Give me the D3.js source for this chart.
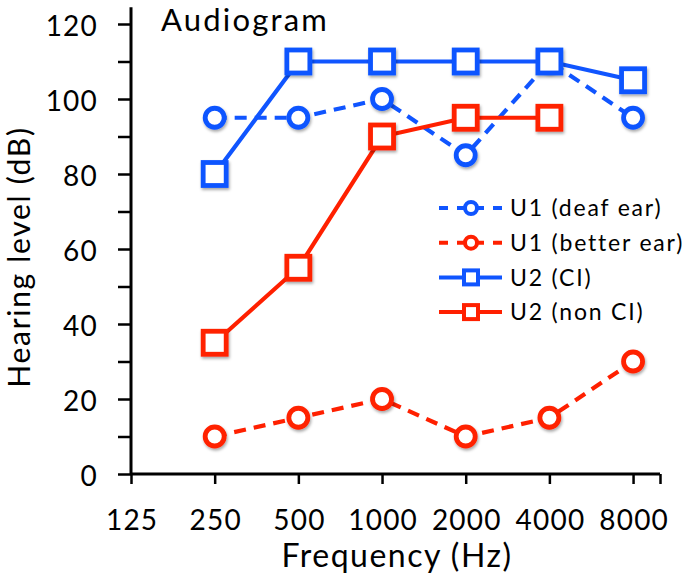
<!DOCTYPE html>
<html>
<head>
<meta charset="utf-8">
<script src="https://cdn.jsdelivr.net/npm/d3@7"></script>
<style>
  body { margin: 0; background: #fff; }
  text { font-family: Lato, "Open Sans", sans-serif; fill: #000; }
</style>
</head>
<body>
<svg id="chart" width="685" height="579"></svg>
<script>
// frequencies (Hz) and hearing levels (dB)
var freqs = [250, 500, 1000, 2000, 4000, 8000];
var u1Deaf = [95, 95, 100, 85, 110, 95];
var u1Better = [10, 15, 20, 10, 15, 30];
var u2CI = [80, 110, 110, 110, 110, 105];
var u2NonCI = [35, 55, 90, 95, 95];

var xTicks = [125, 250, 500, 1000, 2000, 4000, 8000];
var yTicks = [0, 10, 20, 30, 40, 50, 60, 70, 80, 90, 100, 110, 120];

var blue = '#1055ff';
var red = '#ff2000';

var series = [
  { name: 'U1 (deaf ear)', values: u1Deaf, color: blue, dash: true, shape: 'circle' },
  { name: 'U1 (better ear)', values: u1Better, color: red, dash: true, shape: 'circle' },
  { name: 'U2 (CI)', values: u2CI, color: blue, dash: false, shape: 'square' },
  { name: 'U2 (non CI)', values: u2NonCI, color: red, dash: false, shape: 'square' }
];

var svg = d3.select('#chart');

var defs = svg.append('defs');
var f = defs.append('filter').attr('id', 'shadow')
  .attr('x', '-50%').attr('y', '-50%').attr('width', '200%').attr('height', '200%');
f.append('feDropShadow').attr('dx', 1).attr('dy', 2).attr('stdDeviation', 1.5)
  .attr('flood-color', '#000').attr('flood-opacity', 0.35);

var x = d3.scaleLog().domain([125, 10000]).range([131, 660]);
var y = d3.scaleLinear().domain([0, 120]).range([474, 24]);

// axes
var yAxis = svg.append('g')
  .attr('transform', 'translate(131,0)')
  .call(d3.axisLeft(y).tickValues(yTicks).tickSize(13).tickPadding(20)
    .tickFormat(function(d){ return d % 20 == 0 ? d : ''; }));

var xAxis = svg.append('g')
  .attr('transform', 'translate(0,474)')
  .call(d3.axisBottom(x).tickValues(xTicks.concat([10000])).tickSize(10).tickPadding(26)
    .tickFormat(function(d){ return d == 10000 ? '' : d; }));

svg.selectAll('.domain').attr('stroke', '#000').attr('stroke-width', 3);
svg.selectAll('.tick line').attr('stroke', '#000').attr('stroke-width', 2.5);
svg.selectAll('.tick text').style('font-size', '28px').style('letter-spacing', '1.2px').style('fill', '#000');
// no outer ticks on the axis line ends
yAxis.select('.domain').attr('d', 'M0,' + (y(0)) + 'V' + y(124.5));
xAxis.select('.domain').attr('d', 'M131,0H660');
yAxis.selectAll('.tick text').attr('dy', '0.42em');
xAxis.selectAll('.tick text').attr('dx', '0.6px');

// titles
svg.append('text').attr('x', 161).attr('y', 31)
  .style('font-size', '31px').style('letter-spacing', '2.2px').text('Audiogram');

svg.append('text')
  .attr('transform', 'translate(30,257) rotate(-90)')
  .attr('text-anchor', 'middle')
  .style('font-size', '30px').style('letter-spacing', '1.7px')
  .text('Hearing level (dB)');

svg.append('text').attr('x', 397).attr('y', 567)
  .attr('text-anchor', 'middle')
  .style('font-size', '32px').style('letter-spacing', '1.5px')
  .text('Frequency (Hz)');

// lines and markers
var line = d3.line()
  .x(function(d){ return x(d.f); })
  .y(function(d){ return y(d.v); });

function drawMarker(g, shape, cx, cy, size, color, sw) {
  if (shape == 'circle') {
    g.append('circle').attr('cx', cx).attr('cy', cy).attr('r', size)
      .attr('fill', '#fff').attr('stroke', color).attr('stroke-width', sw);
  } else {
    g.append('rect').attr('x', cx - size).attr('y', cy - size)
      .attr('width', size * 2).attr('height', size * 2)
      .attr('fill', '#fff').attr('stroke', color).attr('stroke-width', sw);
  }
}

series.forEach(function(s) {
  var pts = s.values.map(function(v, i){ return { f: freqs[i], v: v }; });
  var g = svg.append('g');
  g.append('path').datum(pts)
    .attr('d', line)
    .attr('fill', 'none')
    .attr('stroke', s.color)
    .attr('stroke-width', 4.2)
    .attr('stroke-dasharray', s.dash ? '12,8' : null);
  var mg = g.append('g').attr('filter', 'url(#shadow)');
  pts.forEach(function(p) {
    drawMarker(mg, s.shape, x(p.f), y(p.v), s.shape == 'circle' ? 9.5 : 11.5, s.color, 4.8);
  });
});

// legend
var legend = svg.append('g');
series.forEach(function(s, i) {
  var ly = 208 + i * 34.7;
  legend.append('line')
    .attr('x1', 439).attr('x2', 502).attr('y1', ly).attr('y2', ly)
    .attr('stroke', s.color).attr('stroke-width', 4)
    .attr('stroke-dasharray', s.dash ? '9,9' : null);
  drawMarker(legend, s.shape, 471, ly, s.shape == 'circle' ? 6 : 7, s.color, 4);
  legend.append('text').attr('x', 510).attr('y', ly).attr('dy', '0.36em')
    .style('font-size', '23px').style('letter-spacing', '1.8px').text(s.name);
});
</script>
</body>
</html>
